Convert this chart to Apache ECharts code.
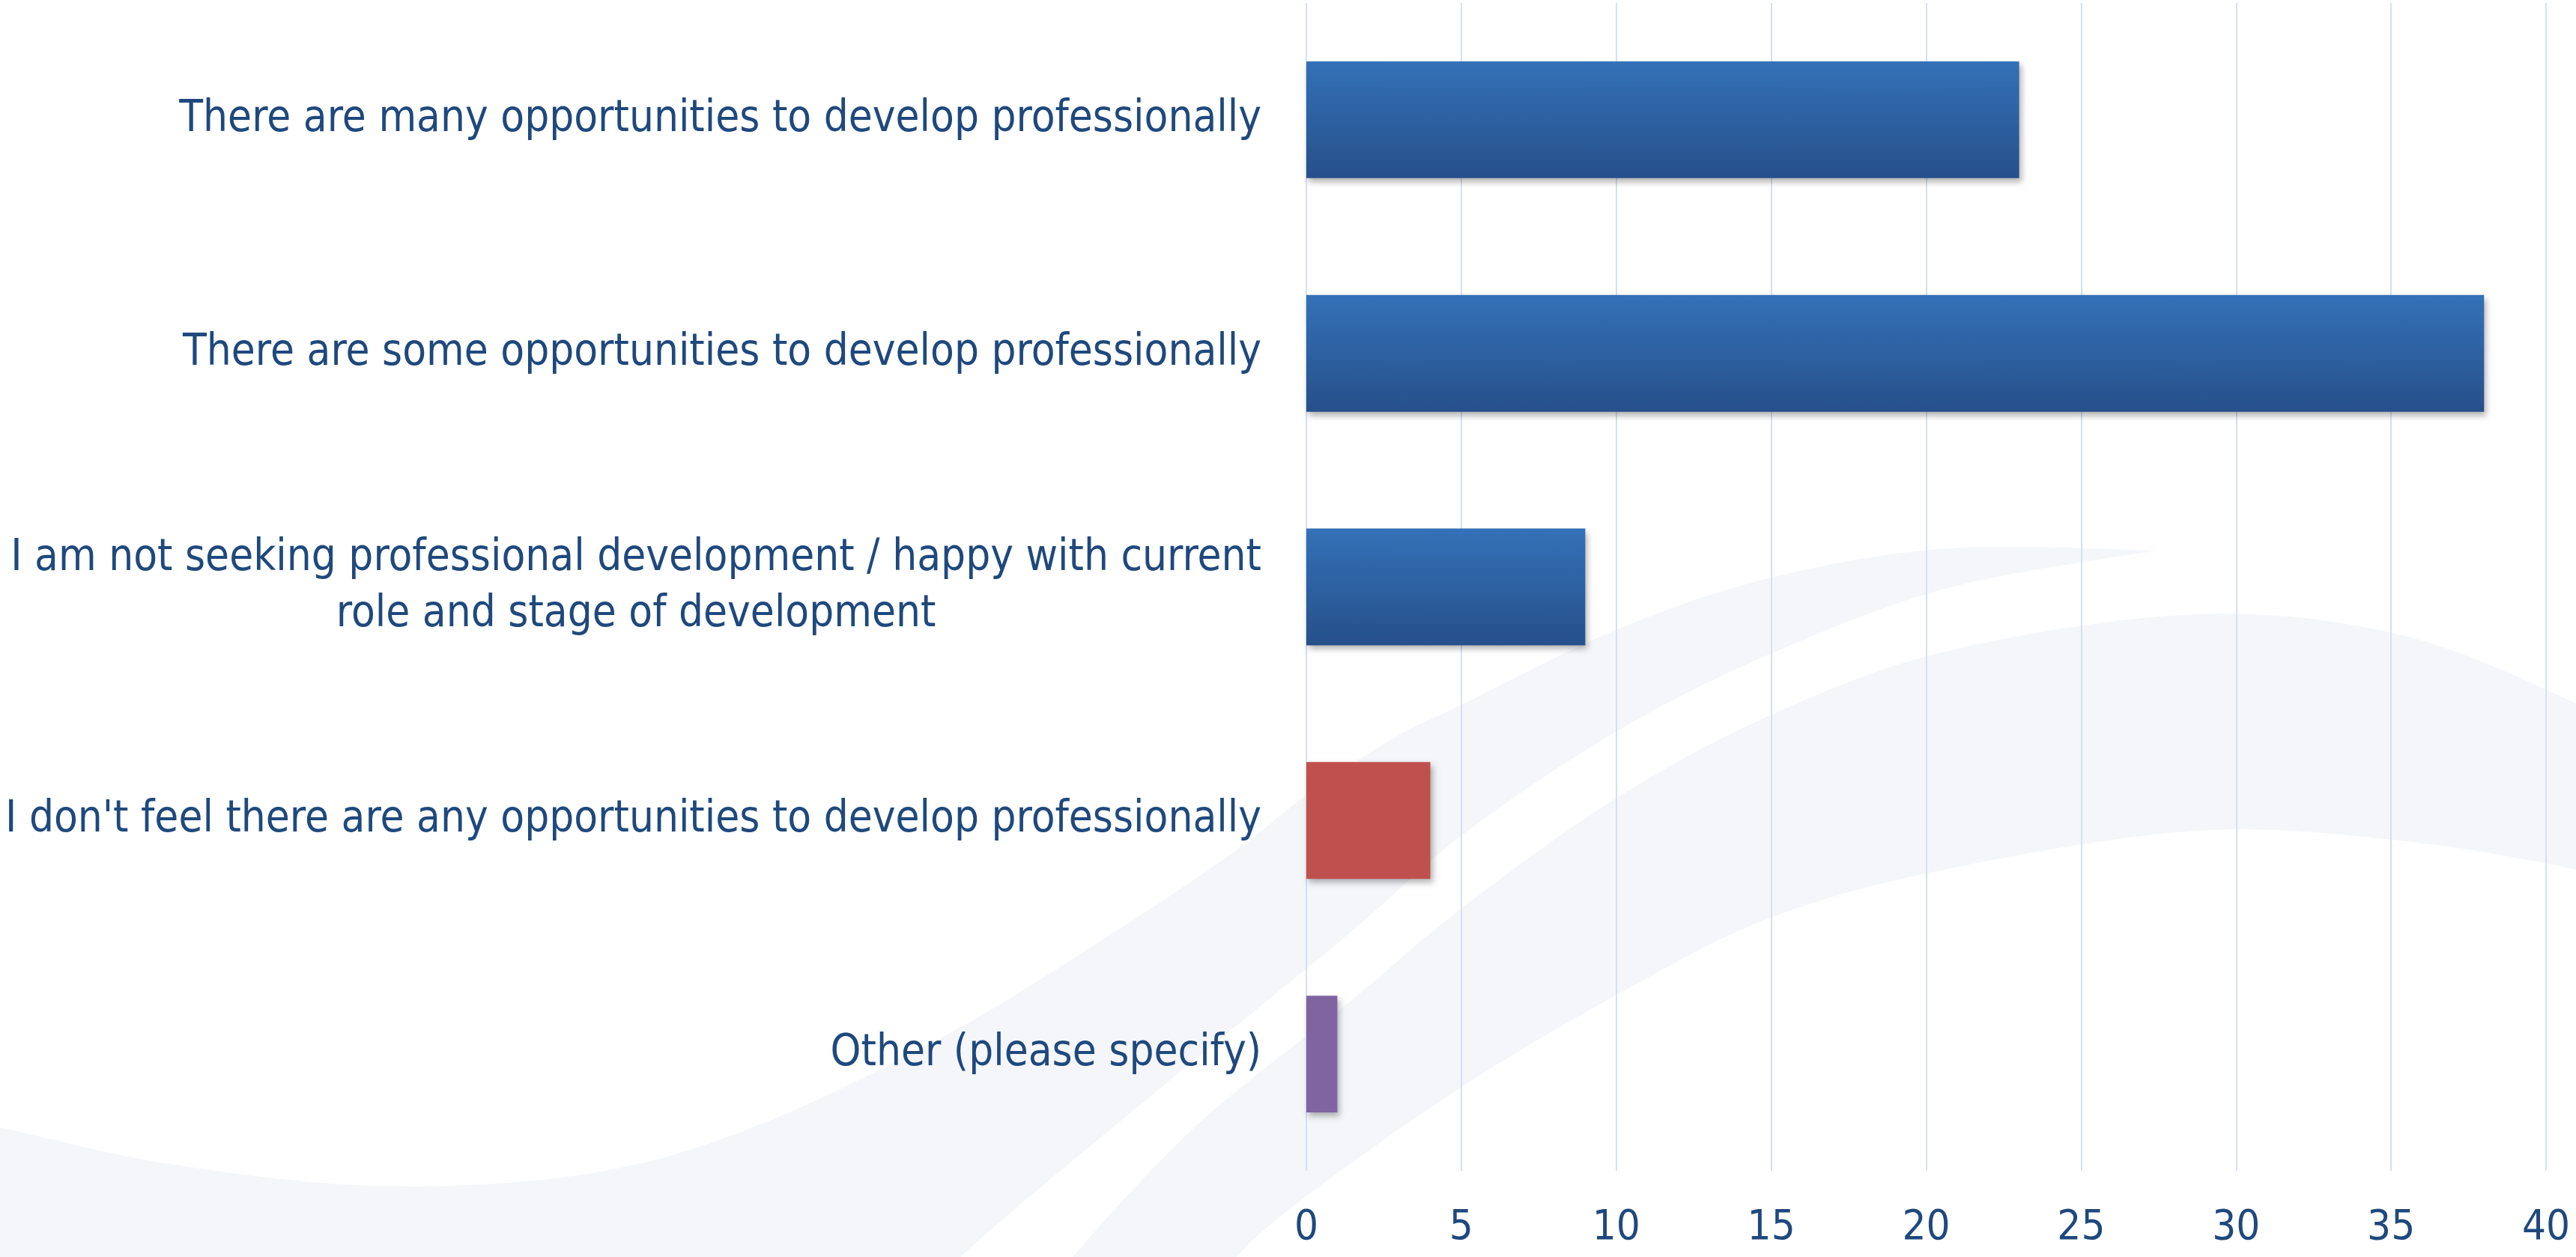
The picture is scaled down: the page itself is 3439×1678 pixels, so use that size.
<!DOCTYPE html>
<html>
<head>
<meta charset="utf-8">
<script src="https://cdn.jsdelivr.net/npm/echarts@6/dist/echarts.min.js"></script>
<style>
html,body{margin:0;padding:0;background:#fff;}
#chart{width:3439px;height:1678px;}
</style>
</head>
<body>
<div id="chart"></div>
<script>
// ---- data ----
const categories = [
  "There are many opportunities to develop professionally",
  "There are some opportunities to develop professionally",
  "I am not seeking professional development / happy with current\nrole and stage of development",
  "I don't feel there are any opportunities to develop professionally",
  "Other (please specify)"
];
const values = [23, 38, 9, 4, 1];
const xTicks = { min: 0, max: 40, interval: 5 };

// ---- styles ----
const blueGrad = { type: 'linear', x: 0, y: 0, x2: 0, y2: 1,
  colorStops: [{ offset: 0, color: '#3471B8' }, { offset: 1, color: '#26508A' }] };
const barColors = [blueGrad, blueGrad, blueGrad, '#C0504D', '#8064A2'];
const textColor = '#1F497D';
const fontFam = '"Liberation Sans Narrow","DejaVu Sans Condensed","Open Sans",sans-serif';

// size the label font so the widest one-line label spans its reference width
const ctx = document.createElement('canvas').getContext('2d');
ctx.font = '60px ' + fontFam;
const refW = ctx.measureText(categories[3]).width;
const labelSize = Math.min(62, 60 * 1677 / refW);

// ---- decorative background swoosh (page decoration, not data) ----
function spline(pts) {
  const out = [];
  for (let i = 0; i < pts.length - 1; i++) {
    const p0 = pts[i - 1] || pts[i], p1 = pts[i], p2 = pts[i + 1], p3 = pts[i + 2] || pts[i + 1];
    for (let k = 0; k < 16; k++) {
      const t = k / 16, t2 = t * t, t3 = t2 * t;
      const f = function (a, b, c, d) {
        return 0.5 * ((2 * b) + (-a + c) * t + (2 * a - 5 * b + 4 * c - d) * t2 + (-a + 3 * b - 3 * c + d) * t3);
      };
      out.push([f(p0[0], p1[0], p2[0], p3[0]), f(p0[1], p1[1], p2[1], p3[1])]);
    }
  }
  out.push(pts[pts.length - 1]);
  return out;
}
const aUpper = [[-80,1490],[0,1505],[222,1553],[500,1583],[777,1568],[1000,1507],[1255,1386],[1446,1271],[1638,1144],[1745,1061],[1861,985],[1953,940],[2157,841],[2361,772],[2600,732],[2878,735]];
const aLower = [[2878,735],[2600,785],[2361,874],[2157,977],[1953,1114],[1800,1247],[1540,1460],[1280,1680],[1200,1780]];
const bUpper = [[1360,1780],[1430,1680],[1600,1500],[1800,1339],[1953,1211],[2157,1066],[2361,956],[2600,869],[2932,820],[3203,847],[3439,939],[3560,1010]];
const bLower = [[3560,1200],[3439,1161],[3203,1122],[2932,1109],[2600,1160],[2361,1226],[2157,1329],[1953,1450],[1740,1600],[1640,1690],[1590,1780]];
const bandA = spline(aUpper).concat(spline(aLower)).concat([[-80,1780]]);
const bandB = spline(bUpper).concat(spline(bLower));

const chart = echarts.init(document.getElementById('chart'));

chart.setOption({
  backgroundColor: '#ffffff',
  animation: false,
  graphic: {
    elements: [
      { type: 'polygon', z: -100, silent: true, shape: { points: bandA }, style: { fill: '#F4F6FA' } },
      { type: 'polygon', z: -100, silent: true, shape: { points: bandB }, style: { fill: '#F4F6FA' } }
    ]
  },
  grid: { left: 1744, right: 40, top: 4, bottom: 115, containLabel: false },
  xAxis: {
    type: 'value',
    min: xTicks.min, max: xTicks.max, interval: xTicks.interval,
    axisLine: { show: false },
    axisTick: { show: false },
    splitLine: { show: true, lineStyle: { color: '#D5E1F0', width: 2 } },
    axisLabel: { color: textColor, fontSize: 56, fontFamily: fontFam, margin: 48 }
  },
  yAxis: {
    type: 'category',
    inverse: true,
    data: categories,
    axisLine: { show: false },
    axisTick: { show: false },
    splitLine: { show: false },
    axisLabel: {
      color: textColor, fontSize: labelSize, fontFamily: fontFam, margin: 60,
      lineHeight: 75,
      formatter: function (v) {
        return v.split('\n').map(function (l) { return '{c|' + l + '}'; }).join('\n');
      },
      rich: { c: { align: 'center', color: textColor, fontSize: labelSize, fontFamily: fontFam, lineHeight: 75 } }
    }
  },
  series: [{
    type: 'bar',
    barWidth: '50%',
    data: values.map(function (v, i) { return { value: v, itemStyle: { color: barColors[i] } }; }),
    itemStyle: {
      shadowColor: 'rgba(0,0,0,0.3)', shadowBlur: 8, shadowOffsetX: 3, shadowOffsetY: 5
    }
  }]
});
</script>
</body>
</html>
